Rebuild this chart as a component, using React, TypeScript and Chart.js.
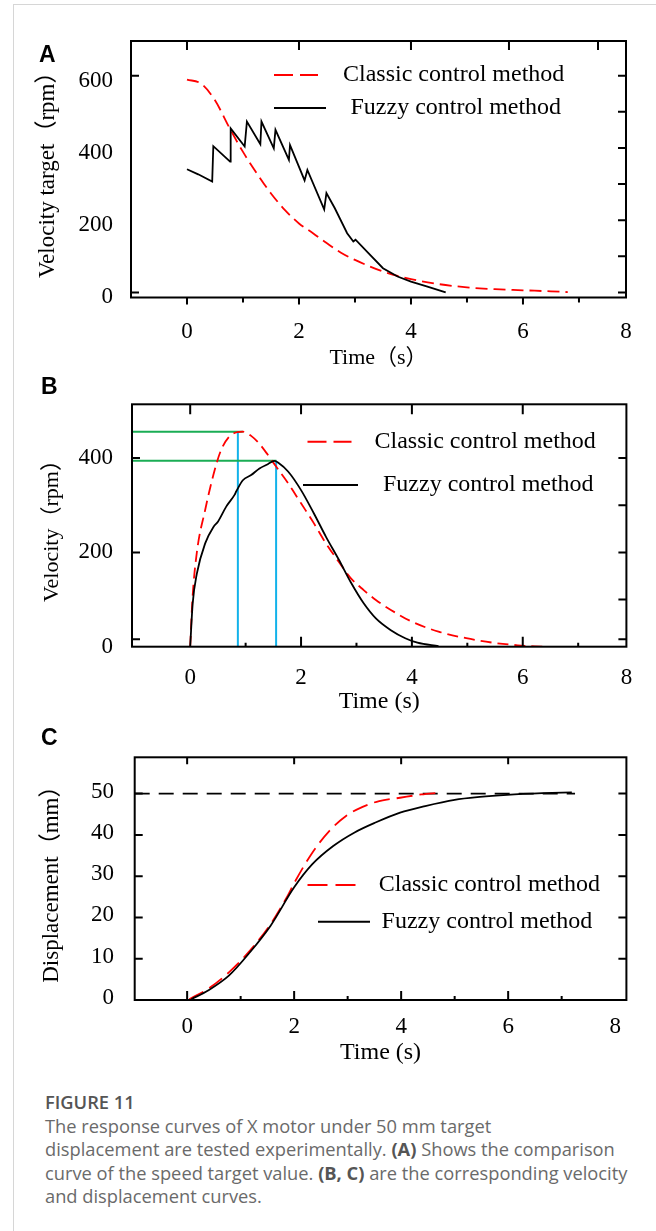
import React, { useEffect, useRef } from 'react';
import { Chart, registerables } from 'chart.js';

Chart.register(...registerables);

// ---------------- data ----------------
const seriesNames = ['Classic control method', 'Fuzzy control method'];

// Panel A: velocity target (rpm) vs time (s)
const timeClassicA = [0, 0.25, 0.5, 0.75, 1.0, 1.25, 1.5, 1.75, 2.0, 2.25, 2.5, 2.75, 3.0, 3.5, 4.0, 4.5, 5.0, 5.5, 6.0, 6.5, 6.8];
const velClassicA = [589, 578, 532, 458, 389, 329, 274, 228, 191, 164, 136, 110, 90, 58, 37, 23, 14, 9, 6, 3, 1];
const timeFuzzyA = [0, 0.2, 0.45, 0.47, 0.77, 0.78, 1.03, 1.07, 1.31, 1.33, 1.55, 1.58, 1.82, 1.84, 2.1, 2.15, 2.45, 2.49, 2.64, 2.86, 2.97, 3.01, 3.24, 3.5, 3.76, 4.0, 4.28, 4.62];
const velFuzzyA = [341, 327, 307, 405, 362, 454, 404, 473, 410, 473, 399, 450, 367, 408, 310, 339, 230, 275, 233, 164, 141, 146, 109, 67, 44, 30, 17, 0];
const xTicksA = [0, 2, 4, 6, 8];
const xTickLabelsA = ['0', '2', '4', '6', '8'];
const yTicksA = [0, 200, 400, 600];
const yTickLabelsA = ['0', '200', '400', '600'];

// Panel B: velocity (rpm) vs time (s)
const timeClassicB = [0, 0.04, 0.12, 0.27, 0.42, 0.55, 0.7, 0.85, 0.95, 1.1, 1.25, 1.4, 1.55, 1.77, 2.0, 2.23, 2.45, 2.68, 2.9, 3.13, 3.35, 3.62, 4.0, 4.48, 4.98, 5.46, 5.91, 6.36];
const velClassicB = [0, 100, 200, 290, 365, 415, 445, 455, 456, 447, 430, 407, 382, 346, 304, 262, 219, 180, 145, 120, 99, 78, 53, 32, 18, 8.5, 3, 0];
const timeFuzzyB = [0, 0.045, 0.12, 0.27, 0.42, 0.5, 0.65, 0.8, 0.83, 0.95, 1.1, 1.25, 1.4, 1.52, 1.59, 1.77, 2.0, 2.23, 2.45, 2.68, 2.9, 3.13, 3.35, 3.62, 3.88, 4.1, 4.48];
const velFuzzyB = [0, 92, 155, 219, 254, 265, 297, 322, 329, 353, 364, 378, 387, 394, 390, 371, 332, 283, 233, 185, 136, 92, 60, 35, 18, 8.5, 1];
const peakClassicB = 456;
const peakClassicTimeB = 0.86;
const peakClassicMarkEndB = 0.95;
const peakFuzzyB = 394.5;
const peakFuzzyTimeB = 1.55;
const peakFuzzyMarkEndB = 1.556;
const xTicksB = [0, 2, 4, 6, 8];
const xTickLabelsB = ['0', '2', '4', '6', '8'];
const yTicksB = [0, 200, 400];
const yTickLabelsB = ['0', '200', '400'];

// Panel C: displacement (mm) vs time (s)
const timeClassicC = [0.04, 0.39, 0.78, 1.17, 1.56, 1.88, 2.0, 2.34, 2.66, 2.97, 3.28, 3.59, 3.98, 4.38, 4.69];
const dispClassicC = [0.2, 2.7, 6.7, 11.9, 18.4, 25.3, 28.3, 35.7, 41, 44.6, 46.8, 48.2, 49, 49.8, 50.2];
const timeFuzzyC = [0.08, 0.39, 0.78, 1.17, 1.56, 2.0, 2.34, 2.73, 3.13, 3.52, 3.98, 4.45, 5.0, 5.47, 5.98, 6.64, 7.19];
const dispFuzzyC = [0.2, 2.3, 5.9, 11.5, 18, 27.3, 32.9, 37.3, 40.6, 43, 45.4, 47, 48.5, 49.2, 49.7, 50.1, 50.3];
const targetTimeC = [-0.98, 7.25];
const targetDispC = [50, 50];
const xTicksC = [0, 2, 4, 6, 8];
const xTickLabelsC = ['0', '2', '4', '6', '8'];
const yTicksC = [0, 10, 20, 30, 40, 50];
const yTickLabelsC = ['0', '10', '20', '30', '40', '50'];

// ---------------- helpers ----------------
const SERIF = '"Liberation Serif", "Times New Roman", "Noto Sans CJK SC", serif';
const RED = '#ff0000';
const GREEN = '#1aad55';
const CYAN = '#12b2ea';

const pts = (xs: number[], ys: number[]) => xs.map((x, i) => ({ x, y: ys[i] }));

type Mark = { side: 'top' | 'bottom' | 'left' | 'right'; values: number[]; len: number; dir: 'in' | 'out'; width?: number };
type LegendItem = { x1: number; x2: number; y: number; color: string; dash: number[]; textX: number; text: string };
type PanelSpec = {
  top: number; height: number;
  frame: { left: number; right: number; top: number; bottom: number };
  xMin: number; xMax: number; yMin: number; yMax: number;
  xTicks: number[]; xTickLabels: string[]; yTicks: number[]; yTickLabels: string[];
  xTitle: string; yTitle: string; xTitleSize: number; yTitleSize: number; tickSize: number;
  xTickPad: number; yTickPad: number; yLabelOffset: number;
  xTitleCenter: number; yTitleCenter: number;
  datasets: any[]; marks: Mark[]; legend: LegendItem[]; legendSize: number;
};

const curve = (data: any[], color: string, dash: number[], smooth: boolean) => ({
  data, borderColor: color, borderWidth: 1.8, borderDash: dash, showLine: true,
  pointRadius: 0, fill: false, tension: 0,
  cubicInterpolationMode: smooth ? 'monotone' : 'default',
});

const range = (a: number, b: number, s: number) => { const r: number[] = []; for (let v = a; v <= b + 1e-9; v += s) r.push(v); return r; };

// ---------------- panel specs ----------------
const specA: PanelSpec = {
  top: 25, height: 350,
  frame: { left: 131, right: 626, top: 41, bottom: 297.5 },
  xMin: -1.0, xMax: 7.84, yMin: -14, yMax: 696,
  xTicks: xTicksA, xTickLabels: xTickLabelsA, yTicks: yTicksA, yTickLabels: yTickLabelsA,
  xTitle: 'Time（s）', yTitle: 'Velocity target（rpm）', xTitleSize: 22, yTitleSize: 23, tickSize: 23,
  xTickPad: 20.4, yTickPad: 18, yLabelOffset: 5, xTitleCenter: 358, yTitleCenter: 48,
  datasets: [
    curve(pts(timeFuzzyA, velFuzzyA), '#000', [], false),
    curve(pts(timeClassicA, velClassicA), RED, [12, 6], true),
  ],
  marks: [
    { side: 'bottom', values: [0, 2, 4, 6], len: 7, dir: 'out' },
    { side: 'bottom', values: [1, 3, 5, 7], len: 5, dir: 'out' },
    { side: 'top', values: [0, 2, 4, 5.75, 7.34], len: 9, dir: 'in' },
    { side: 'left', values: [0, 600], len: 8, dir: 'in' },
    { side: 'right', values: range(0, 600, 100), len: 8, dir: 'in' },
  ],
  legend: [
    { x1: 274, x2: 318, y: 75, color: RED, dash: [19, 7], textX: 343, text: seriesNames[0] },
    { x1: 274, x2: 326, y: 108, color: '#000', dash: [], textX: 350.5, text: seriesNames[1] },
  ],
  legendSize: 24,
};

const specB: PanelSpec = {
  top: 380, height: 340,
  frame: { left: 132, right: 626.4, top: 404.3, bottom: 646.7 },
  xMin: -1.05, xMax: 7.87, yMin: 0, yMax: 514,
  xTicks: xTicksB, xTickLabels: xTickLabelsB, yTicks: yTicksB, yTickLabels: yTickLabelsB,
  xTitle: 'Time (s)', yTitle: 'Velocity（rpm）', xTitleSize: 24, yTitleSize: 22, tickSize: 23,
  xTickPad: 17.8, yTickPad: 19, yLabelOffset: 0, xTitleCenter: 702, yTitleCenter: 52.3,
  datasets: [
    curve(pts(timeFuzzyB, velFuzzyB), '#000', [], true),
    curve(pts(timeClassicB, velClassicB), RED, [11, 6], true),
    { ...curve(pts([-1.05, peakClassicMarkEndB], [peakClassicB, peakClassicB]), GREEN, [], false), borderWidth: 2 },
    { ...curve(pts([-1.05, peakFuzzyMarkEndB], [peakFuzzyB, peakFuzzyB]), GREEN, [], false), borderWidth: 2 },
    { ...curve(pts([peakClassicTimeB, peakClassicTimeB], [peakClassicB, 0]), CYAN, [], false), borderWidth: 2 },
    { ...curve(pts([peakFuzzyTimeB, peakFuzzyTimeB], [peakFuzzyB, 0]), CYAN, [], false), borderWidth: 2 },
  ],
  marks: [
    { side: 'top', values: [0, 2, 4, 6], len: 10, dir: 'in' },
    { side: 'bottom', values: [2, 4, 6], len: 10, dir: 'in' },
    { side: 'bottom', values: [1, 3, 5, 7], len: 4, dir: 'in' },
    { side: 'left', values: [16, 200, 400], len: 8, dir: 'in' },
    { side: 'right', values: [16, 100, 200, 300, 400], len: 8, dir: 'in' },
  ],
  legend: [
    { x1: 307.5, x2: 351.5, y: 441.7, color: RED, dash: [19, 7], textX: 374.5, text: seriesNames[0] },
    { x1: 303, x2: 358, y: 485, color: '#000', dash: [], textX: 383, text: seriesNames[1] },
  ],
  legendSize: 24,
};

const specC: PanelSpec = {
  top: 740, height: 340,
  frame: { left: 134.7, right: 626.4, top: 757.3, bottom: 1000 },
  xMin: -0.98, xMax: 8.21, yMin: 0, yMax: 58.8,
  xTicks: xTicksC, xTickLabels: xTickLabelsC, yTicks: yTicksC, yTickLabels: yTickLabelsC,
  xTitle: 'Time (s)', yTitle: 'Displacement（mm）', xTitleSize: 24, yTitleSize: 23, tickSize: 23,
  xTickPad: 12.9, yTickPad: 20.7, yLabelOffset: -2, xTitleCenter: 1053, yTitleCenter: 52,
  datasets: [
    curve(pts(timeFuzzyC, dispFuzzyC), '#000', [], true),
    curve(pts(timeClassicC, dispClassicC), RED, [16, 7], true),
    curve(pts(targetTimeC, targetDispC), '#000', [15, 9], false),
  ],
  marks: [
    { side: 'top', values: [0, 2, 4, 6], len: 7, dir: 'in' },
    { side: 'bottom', values: [0, 2, 4, 6], len: 9, dir: 'in' },
    { side: 'bottom', values: [1, 3, 5, 7], len: 4, dir: 'in' },
    { side: 'left', values: range(0, 50, 10), len: 8, dir: 'in' },
    { side: 'right', values: range(0, 50, 10), len: 8, dir: 'in' },
  ],
  legend: [
    { x1: 307.5, x2: 355.6, y: 885, color: RED, dash: [20, 8], textX: 378.7, text: seriesNames[0] },
    { x1: 318, x2: 370, y: 921.7, color: '#000', dash: [], textX: 381.6, text: seriesNames[1] },
  ],
  legendSize: 24,
};

// ---------------- chart builder ----------------
function buildChart(canvas: HTMLCanvasElement, s: PanelSpec) {
  const lhX = s.xTitleSize * 1.2;
  const lhY = s.yTitleSize * 1.2;
  const boxBottom = s.xTitleCenter + lhX / 2;
  const padBottom = s.top + s.height - boxBottom;
  const xAxisH = boxBottom - s.frame.bottom;
  const yAxisW = s.frame.left;

  const framePlugin = {
    id: 'frameTicksLegend',
    afterDatasetsDraw(chart: any) {
      const { ctx, chartArea: a, scales } = chart;
      const xs = scales.x, ys = scales.y;
      ctx.save();
      ctx.strokeStyle = '#000';
      ctx.lineWidth = 2;
      ctx.setLineDash([]);
      ctx.strokeRect(a.left, a.top, a.right - a.left, a.bottom - a.top);
      for (const m of s.marks) {
        ctx.lineWidth = m.width ?? 2;
        ctx.beginPath();
        for (const v of m.values) {
          if (m.side === 'top' || m.side === 'bottom') {
            const px = xs.getPixelForValue(v);
            const base = m.side === 'bottom' ? a.bottom : a.top;
            const inward = m.side === 'bottom' ? -1 : 1;
            const d = m.dir === 'in' ? inward : -inward;
            ctx.moveTo(px, base);
            ctx.lineTo(px, base + d * m.len);
          } else {
            const py = ys.getPixelForValue(v);
            const base = m.side === 'left' ? a.left : a.right;
            const inward = m.side === 'left' ? 1 : -1;
            const d = m.dir === 'in' ? inward : -inward;
            ctx.moveTo(base, py);
            ctx.lineTo(base + d * m.len, py);
          }
        }
        ctx.stroke();
      }
      ctx.font = `${s.legendSize}px ${SERIF}`;
      ctx.textBaseline = 'middle';
      ctx.textAlign = 'left';
      ctx.fillStyle = '#000';
      for (const L of s.legend) {
        const y = L.y - s.top;
        ctx.strokeStyle = L.color;
        ctx.lineWidth = 2;
        ctx.setLineDash(L.dash);
        ctx.beginPath();
        ctx.moveTo(L.x1, y);
        ctx.lineTo(L.x2, y);
        ctx.stroke();
        ctx.setLineDash([]);
        ctx.fillText(L.text, L.textX, y);
      }
      ctx.restore();
    },
  };

  return new Chart(canvas, {
    type: 'scatter',
    data: { datasets: s.datasets },
    options: {
      animation: false,
      responsive: false,
      devicePixelRatio: 1,
      layout: { padding: { left: 0, right: 656 - s.frame.right, top: s.frame.top - s.top, bottom: padBottom } },
      plugins: { legend: { display: false }, tooltip: { enabled: false } },
      elements: { point: { radius: 0 } },
      scales: {
        x: {
          type: 'linear', min: s.xMin, max: s.xMax,
          grid: { display: false, drawTicks: false },
          border: { display: false },
          afterBuildTicks: (sc: any) => { sc.ticks = s.xTicks.map((v) => ({ value: Math.min(v, s.xMax) })); },
          ticks: {
            autoSkip: false, maxRotation: 0, padding: s.xTickPad, color: '#000',
            font: { family: SERIF, size: s.tickSize },
            callback: (_v: any, i: number) => s.xTickLabels[i],
          },
          title: { display: true, text: s.xTitle, color: '#000', font: { family: SERIF, size: s.xTitleSize }, padding: { top: 0, bottom: 0 } },
          afterFit: (sc: any) => { sc.height = xAxisH; sc.paddingLeft = 0; sc.paddingRight = 0; },
        },
        y: {
          type: 'linear', min: s.yMin, max: s.yMax,
          grid: { display: false, drawTicks: false },
          border: { display: false },
          afterBuildTicks: (sc: any) => { sc.ticks = s.yTicks.map((v) => ({ value: v })); },
          ticks: {
            autoSkip: false, padding: s.yTickPad, labelOffset: s.yLabelOffset, color: '#000',
            font: { family: SERIF, size: s.tickSize },
            callback: (_v: any, i: number) => s.yTickLabels[i],
          },
          title: { display: true, text: s.yTitle, color: '#000', font: { family: SERIF, size: s.yTitleSize }, padding: { top: s.yTitleCenter - lhY / 2, bottom: 0 } },
          afterFit: (sc: any) => { sc.width = yAxisW; sc.paddingTop = 0; sc.paddingBottom = 0; },
        },
      },
    } as any,
    plugins: [framePlugin],
  } as any);
}

function Panel({ spec }: { spec: PanelSpec }) {
  const ref = useRef<HTMLCanvasElement>(null);
  useEffect(() => {
    const chart = buildChart(ref.current as HTMLCanvasElement, spec);
    return () => chart.destroy();
  }, [spec]);
  return (
    <div style={{ position: 'absolute', left: 0, top: spec.top, width: 656, height: spec.height }}>
      <canvas ref={ref} width={656} height={spec.height} style={{ display: 'block' }} />
    </div>
  );
}

const letterStyle: React.CSSProperties = {
  position: 'absolute', fontFamily: '"Liberation Sans", Arial, sans-serif', fontWeight: 700,
  fontSize: 23, lineHeight: '24px', color: '#000',
};

export default function App() {
  return (
    <div style={{ position: 'absolute', left: 0, top: 0, width: 656, height: 1231, background: '#fff', overflow: 'hidden' }}>
      <div style={{ position: 'absolute', left: 13, top: 4, width: 700, height: 1300, borderLeft: '1px solid #d6d6d6', borderTop: '1px solid #d6d6d6' }} />
      <Panel spec={specA} />
      <Panel spec={specB} />
      <Panel spec={specC} />
      <div style={{ ...letterStyle, left: 39, top: 41.5 }}>A</div>
      <div style={{ ...letterStyle, left: 41, top: 373.5 }}>B</div>
      <div style={{ ...letterStyle, left: 41, top: 724.5 }}>C</div>
      <div style={{ position: 'absolute', left: 45, top: 1090, fontFamily: '"Open Sans", "Noto Sans", sans-serif', fontSize: 18.3, lineHeight: '23.5px', color: '#6a6a6a', whiteSpace: 'nowrap' }}>
        <div style={{ fontWeight: 600, color: '#555' }}>FIGURE 11</div>
        <div>The response curves of X motor under 50 mm target</div>
        <div>displacement are tested experimentally. <b style={{ fontWeight: 700, color: '#555' }}>(A)</b> Shows the comparison</div>
        <div>curve of the speed target value. <b style={{ fontWeight: 700, color: '#555' }}>(B, C)</b> are the corresponding velocity</div>
        <div>and displacement curves.</div>
      </div>
    </div>
  );
}
